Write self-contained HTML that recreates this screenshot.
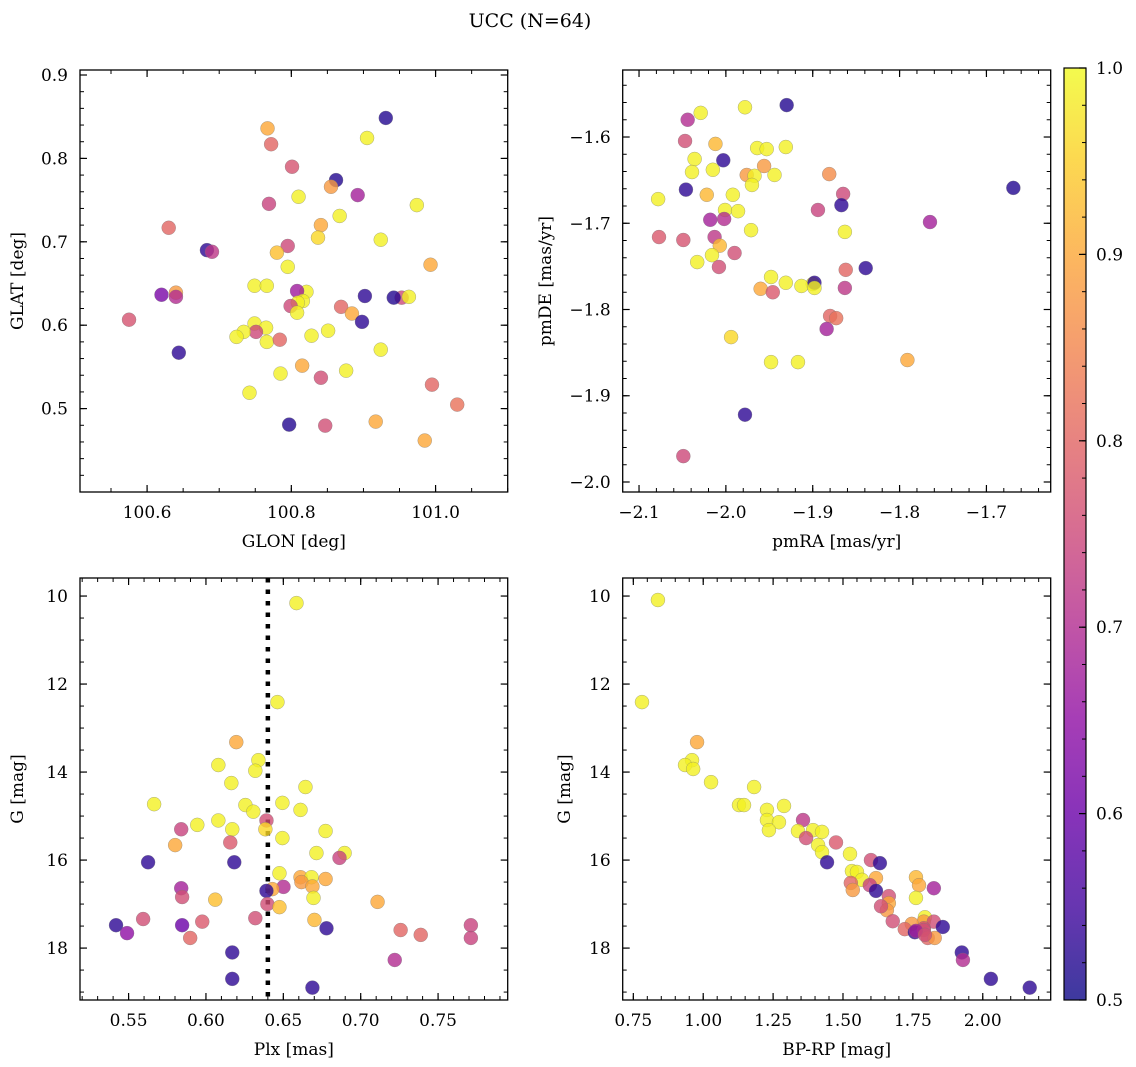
<!DOCTYPE html>
<html><head><meta charset="utf-8"><style>
html,body{margin:0;padding:0;background:#fff;}
svg{display:block;font-family:"DejaVu Serif","Liberation Serif",serif;}
</style></head><body>
<svg id="fig" width="1136" height="1067" viewBox="0 0 1136 1067" xmlns="http://www.w3.org/2000/svg">
<rect width="1136" height="1067" fill="#fff"/>
<text x="530" y="27" font-size="19" text-anchor="middle">UCC (N=64)</text>
</svg>
<script>
// ---- Panel 1: GLON vs GLAT ----
const p1Lon=[100.931,100.767,100.905,100.772,100.801,100.862,100.855,100.892,100.810,100.769,100.974,100.867,100.841,100.630,100.837,100.924,100.795,100.683,100.690,100.780,100.993,100.795,100.749,100.766,100.821,100.640,100.620,100.640,100.808,100.902,100.953,100.942,100.963,100.816,100.809,100.799,100.869,100.808,100.884,100.575,100.749,100.898,100.765,100.751,100.734,100.851,100.828,100.724,100.766,100.784,100.924,100.644,100.815,100.876,100.785,100.841,100.995,100.742,101.030,100.917,100.797,100.847,100.985];
const p1Lat=[0.8485,0.836,0.8245,0.817,0.790,0.774,0.766,0.756,0.754,0.7455,0.744,0.731,0.720,0.7168,0.705,0.7025,0.695,0.690,0.688,0.687,0.6725,0.670,0.6473,0.6473,0.640,0.639,0.6365,0.634,0.641,0.635,0.633,0.633,0.634,0.629,0.627,0.623,0.622,0.615,0.614,0.6066,0.602,0.604,0.597,0.592,0.592,0.5934,0.5874,0.586,0.580,0.5826,0.5707,0.567,0.5515,0.5455,0.542,0.537,0.5287,0.519,0.5048,0.4844,0.4808,0.4796,0.4617];
const p1Prob=[.52,.9,.99,.8,.77,.52,.88,.68,.99,.74,.99,.99,.9,.8,.96,.99,.75,.53,.72,.93,.9,.99,.99,.99,.99,.88,.62,.7,.67,.53,.75,.52,.99,.99,.99,.75,.8,.99,.9,.77,.99,.53,.99,.75,.99,.99,.99,.99,.99,.8,.99,.53,.9,.99,.99,.76,.8,.99,.82,.9,.52,.76,.9];
// ---- Panel 2: pmRA vs pmDE ----
const p2PmRA=[-1.930,-1.978,-2.029,-2.044,-2.047,-2.012,-1.964,-1.931,-1.953,-2.036,-2.003,-1.956,-1.976,-1.967,-2.015,-2.039,-1.944,-1.881,-1.970,-2.022,-1.992,-2.046,-1.669,-1.865,-2.078,-1.867,-2.001,-1.986,-1.894,-2.018,-2.002,-1.765,-1.971,-1.863,-2.077,-2.013,-2.049,-2.007,-2.016,-1.990,-2.033,-2.008,-1.862,-1.839,-1.948,-1.900,-1.931,-1.913,-1.898,-1.960,-1.898,-1.863,-1.946,-1.880,-1.873,-1.884,-1.994,-1.948,-1.917,-1.791,-1.978,-2.049];
const p2PmDE=[-1.563,-1.5655,-1.572,-1.580,-1.6046,-1.608,-1.6128,-1.6116,-1.614,-1.6255,-1.627,-1.6336,-1.644,-1.645,-1.638,-1.6406,-1.644,-1.643,-1.6556,-1.667,-1.667,-1.661,-1.659,-1.666,-1.672,-1.679,-1.6846,-1.686,-1.6846,-1.696,-1.695,-1.6986,-1.708,-1.710,-1.716,-1.716,-1.7194,-1.726,-1.737,-1.7345,-1.745,-1.7507,-1.754,-1.752,-1.7623,-1.7704,-1.769,-1.7727,-1.769,-1.776,-1.775,-1.775,-1.78,-1.8075,-1.81,-1.8226,-1.832,-1.861,-1.861,-1.8586,-1.922,-1.97];
const p2Prob=[.52,.99,.99,.7,.76,.92,.99,.99,.99,.99,.53,.88,.88,.99,.99,.99,.99,.86,.99,.92,.99,.53,.52,.75,.99,.53,.99,.99,.74,.68,.7,.68,.99,.99,.78,.72,.77,.92,.99,.76,.99,.76,.8,.53,.99,.99,.99,.99,.53,.9,.99,.72,.78,.8,.82,.68,.96,.99,.99,.9,.53,.75];
// ---- Panel 3: Plx vs G ----
const p3Plx=[0.6585,0.6462,0.6196,0.6339,0.6080,0.6319,0.6643,0.6164,0.5665,0.6255,0.6494,0.6306,0.6611,0.6391,0.6080,0.5944,0.6384,0.6170,0.5840,0.6773,0.6494,0.6157,0.5801,0.6714,0.6896,0.6863,0.5626,0.6183,0.6475,0.6611,0.6682,0.6773,0.6617,0.6501,0.6429,0.5840,0.6391,0.6688,0.5846,0.6695,0.6060,0.7109,0.6397,0.6475,0.6319,0.5594,0.5976,0.6701,0.5419,0.5846,0.7712,0.6779,0.7258,0.5490,0.7388,0.5898,0.7712,0.6170,0.7220,0.6170,0.6688];
const p3G=[10.16,12.41,13.32,13.73,13.84,13.97,14.34,14.25,14.73,14.75,14.7,14.9,14.86,15.1,15.1,15.2,15.3,15.3,15.3,15.34,15.5,15.6,15.66,15.84,15.84,15.95,16.05,16.05,16.3,16.39,16.39,16.43,16.5,16.61,16.66,16.64,16.7,16.6,16.84,16.86,16.9,16.95,17.0,17.07,17.32,17.34,17.4,17.36,17.48,17.48,17.48,17.55,17.59,17.66,17.7,17.77,17.77,18.1,18.27,18.7,18.9];
const p3Prob=[.99,.99,.9,.99,.99,.99,.99,.99,.99,.99,.99,.99,.99,.76,.99,.99,.96,.99,.74,.99,.99,.78,.9,.99,.99,.74,.53,.53,.99,.9,.99,.9,.88,.7,.9,.68,.53,.9,.76,.99,.93,.9,.76,.93,.76,.76,.78,.92,.53,.6,.74,.53,.8,.65,.8,.8,.74,.53,.7,.53,.53];
const plxLine=0.640;
// ---- Panel 4: BP-RP vs G ----
const p4BpRp=[0.838,0.781,0.978,0.960,0.935,0.964,1.028,1.182,1.128,1.146,1.228,1.289,1.357,1.228,1.271,1.339,1.235,1.393,1.425,1.368,1.475,1.411,1.425,1.525,1.600,1.443,1.632,1.532,1.550,1.761,1.618,1.568,1.528,1.596,1.772,1.535,1.825,1.618,1.664,1.761,1.664,1.657,1.636,1.793,1.789,1.825,1.746,1.678,1.721,1.789,1.857,1.757,1.789,1.761,1.803,1.828,1.793,1.925,1.929,2.029,2.168];
const p4G=[10.09,12.41,13.32,13.73,13.84,13.93,14.23,14.34,14.75,14.75,14.86,14.77,15.09,15.09,15.14,15.34,15.32,15.32,15.36,15.5,15.6,15.66,15.82,15.86,16.0,16.05,16.07,16.25,16.27,16.39,16.41,16.45,16.52,16.57,16.57,16.68,16.64,16.7,16.82,16.86,16.98,17.14,17.05,17.3,17.4,17.4,17.45,17.39,17.57,17.55,17.52,17.64,17.59,17.61,17.77,17.77,17.7,18.1,18.27,18.7,18.9];
const p4Prob=[.99,.99,.9,.99,.99,.99,.99,.99,.99,.99,.99,.99,.72,.99,.99,.99,.99,.99,.99,.76,.78,.99,.99,.99,.76,.53,.53,.99,.99,.92,.9,.99,.8,.74,.9,.88,.68,.53,.76,.99,.9,.88,.76,.99,.88,.76,.88,.76,.8,.76,.53,.53,.76,.68,.8,.88,.76,.53,.7,.53,.53];
// ---- tick labels ----
const p1XTicks=[100.6,100.8,101.0];
const p1YTicks=[0.5,0.6,0.7,0.8,0.9];
const p2XTicks=[-2.1,-2.0,-1.9,-1.8,-1.7];
const p2YTicks=[-2.0,-1.9,-1.8,-1.7,-1.6];
const p3XTicks=[0.55,0.60,0.65,0.70,0.75];
const gTicks=[10,12,14,16,18];
const p4XTicks=[0.75,1.00,1.25,1.50,1.75,2.00];
const cbTicks=[0.5,0.6,0.7,0.8,0.9,1.0];

const NS='http://www.w3.org/2000/svg';
const svg=document.getElementById('fig');
function mk(tag,attrs,parent){const e=document.createElementNS(NS,tag);for(const k in attrs)e.setAttribute(k,attrs[k]);(parent||svg).appendChild(e);return e;}
const plasma=[[13,8,135],[65,4,157],[106,0,168],[143,13,164],[177,42,144],[204,71,120],[225,100,98],[242,132,75],[252,166,54],[252,206,37],[240,249,33]];
function cmap(v){let t=(v-0.5)/0.5;t=Math.max(0,Math.min(1,t));const s=t*10;const i=Math.min(9,Math.floor(s));const f=s-i;const a=plasma[i],b=plasma[i+1];return 'rgb('+a.map((c,k)=>Math.round(c+(b[k]-c)*f)).join(',')+')';}
function fmt(v,d){return (v<0?'\u2212':'')+Math.abs(v).toFixed(d);}

function panel(o){
  const g=mk('g',{});
  
  
  const X=v=>o.x0+(v-o.xmin)/(o.xmax-o.xmin)*(o.x1-o.x0);
  const Y=o.invert? (v=>o.y0+(v-o.ymin)/(o.ymax-o.ymin)*(o.y1-o.y0)) : (v=>o.y1-(v-o.ymin)/(o.ymax-o.ymin)*(o.y1-o.y0));
  if(o.vline!==undefined){
    const l=mk('line',{x1:X(o.vline),x2:X(o.vline),y1:o.y0,y2:o.y1,stroke:'#000','stroke-width':4.5,'stroke-dasharray':'4.5,7'},g);
    
    
  }
  const n=Math.min(o.xs.length,o.ys.length,o.cs.length);
  for(let i=0;i<n;i++){
    const c=mk('circle',{cx:X(o.xs[i]),cy:Y(o.ys[i]),r:7,fill:cmap(o.cs[i]),'fill-opacity':0.8,stroke:'#777','stroke-opacity':0.6,'stroke-width':0.5},g);
    
    
  }
  const fr=mk('rect',{x:o.x0,y:o.y0,width:o.x1-o.x0,height:o.y1-o.y0,fill:'none',stroke:'#000','stroke-width':1.3},g);
  
  
  const eps=1e-9;
  function ticksRange(min,max,step){const a=[];let s=Math.ceil(min/step-eps);for(let k=s;k*step<=max+eps;k++)a.push(k*step);return a;}
  ticksRange(o.xmin,o.xmax,o.xminor).forEach(v=>{const x=X(v);mk('line',{x1:x,x2:x,y1:o.y1,y2:o.y1-4,stroke:'#000','stroke-width':1},g);mk('line',{x1:x,x2:x,y1:o.y0,y2:o.y0+4,stroke:'#000','stroke-width':1},g);});
  ticksRange(o.ymin,o.ymax,o.yminor).forEach(v=>{const y=Y(v);mk('line',{x1:o.x0,x2:o.x0+4,y1:y,y2:y,stroke:'#000','stroke-width':1},g);mk('line',{x1:o.x1,x2:o.x1-4,y1:y,y2:y,stroke:'#000','stroke-width':1},g);});
  o.xt.forEach(v=>{const x=X(v);mk('line',{x1:x,x2:x,y1:o.y1,y2:o.y1-7,stroke:'#000','stroke-width':1.2},g);mk('line',{x1:x,x2:x,y1:o.y0,y2:o.y0+7,stroke:'#000','stroke-width':1.2},g);
    const t=mk('text',{x:x,y:o.y1+26,'font-size':17,'text-anchor':'middle'},g);t.textContent=fmt(v,o.xd);
    
    });
  o.yt.forEach(v=>{const y=Y(v);mk('line',{x1:o.x0,x2:o.x0+7,y1:y,y2:y,stroke:'#000','stroke-width':1.2},g);mk('line',{x1:o.x1,x2:o.x1-7,y1:y,y2:y,stroke:'#000','stroke-width':1.2},g);
    const t=mk('text',{x:o.x0-12,y:y+6,'font-size':17,'text-anchor':'end'},g);t.textContent=fmt(v,o.yd);
    
    });
  const xl=mk('text',{x:(o.x0+o.x1)/2,y:o.y1+55,'font-size':17,'text-anchor':'middle'},g);xl.textContent=o.xlab;
  
  
  const yx=o.ylx,yy=(o.y0+o.y1)/2;
  const yl=mk('text',{x:yx,y:yy,'font-size':17,'text-anchor':'middle',transform:'rotate(-90 '+yx+' '+yy+')'},g);yl.textContent=o.ylab;
  
  
}
const L0=80,L1=507.7,R0=622.7,R1=1050.7,T0=70,T1=492,B0=578,B1=1000;
panel({name:'panel-glon-glat',x0:L0,x1:L1,y0:T0,y1:T1,xmin:100.507,xmax:101.1,ymin:0.4,ymax:0.906,xs:p1Lon,ys:p1Lat,cs:p1Prob,xt:p1XTicks,yt:p1YTicks,xminor:0.05,yminor:0.02,xd:1,yd:1,xlab:'GLON [deg]',ylab:'GLAT [deg]',ylx:23});
panel({name:'panel-pmra-pmde',x0:R0,x1:R1,y0:T0,y1:T1,xmin:-2.1188,xmax:-1.626,ymin:-2.0116,ymax:-1.5223,xs:p2PmRA,ys:p2PmDE,cs:p2Prob,xt:p2XTicks,yt:p2YTicks,xminor:0.02,yminor:0.02,xd:1,yd:1,xlab:'pmRA [mas/yr]',ylab:'pmDE [mas/yr]',ylx:551});
panel({name:'panel-plx-g',x0:L0,x1:L1,y0:B0,y1:B1,xmin:0.5186,xmax:0.795,ymin:9.59,ymax:19.18,invert:true,xs:p3Plx,ys:p3G,cs:p3Prob,xt:p3XTicks,yt:gTicks,xminor:0.01,yminor:0.5,xd:2,yd:0,xlab:'Plx [mas]',ylab:'G [mag]',ylx:23,vline:plxLine});
panel({name:'panel-bprp-g',x0:R0,x1:R1,y0:B0,y1:B1,xmin:0.712,xmax:2.243,ymin:9.59,ymax:19.18,invert:true,xs:p4BpRp,ys:p4G,cs:p4Prob,xt:p4XTicks,yt:gTicks,xminor:0.05,yminor:0.5,xd:2,yd:0,xlab:'BP-RP [mag]',ylab:'G [mag]',ylx:570});

const cb=mk('g',{});


const defs=mk('defs',{},cb);
const lg=mk('linearGradient',{id:'pl',x1:0,y1:1,x2:0,y2:0},defs);
for(let i=0;i<=20;i++){const v=0.5+i*0.025;mk('stop',{offset:(i/20),'stop-color':cmap(v)},lg);}
const CX0=1064,CX1=1086,CY0=68,CY1=1000;
mk('rect',{x:CX0,y:CY0,width:CX1-CX0,height:CY1-CY0,fill:'url(#pl)','fill-opacity':0.8,stroke:'#000','stroke-width':1.2},cb);
const CY=v=>CY1-(v-0.5)/0.5*(CY1-CY0);
for(let k=25;k<=50;k++){const v=k*0.02;const y=CY(v);mk('line',{x1:CX1,x2:CX1-4,y1:y,y2:y,stroke:'#000','stroke-width':1},cb);}
cbTicks.forEach(v=>{const y=CY(v);mk('line',{x1:CX1,x2:CX1-7,y1:y,y2:y,stroke:'#000','stroke-width':1.2},cb);
  const t=mk('text',{x:CX1+10,y:y+6,'font-size':17},cb);t.textContent=v.toFixed(1);
  
  });
</script>
</body></html>
